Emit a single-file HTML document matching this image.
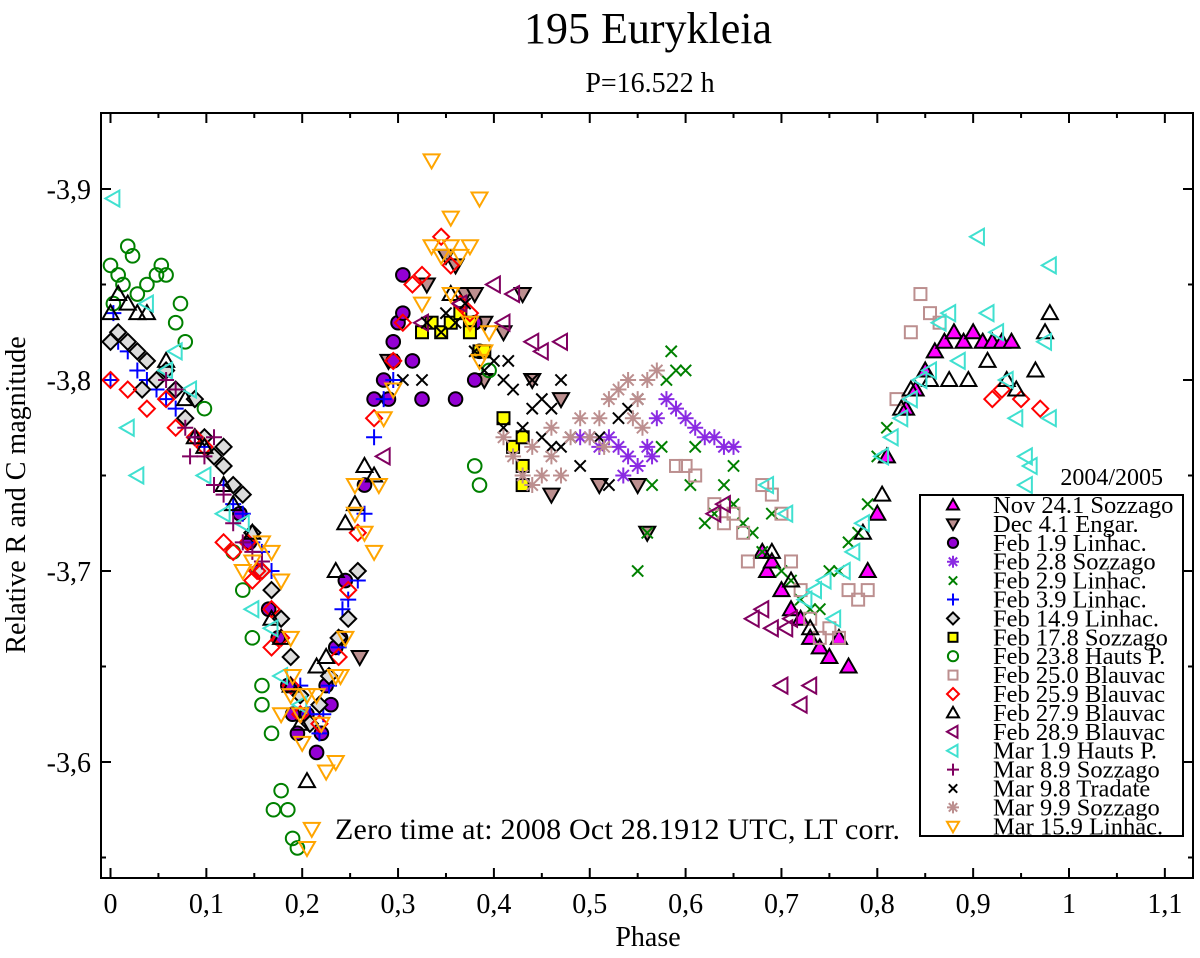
<!DOCTYPE html>
<html><head><meta charset="utf-8"><style>
body{margin:0;background:#fff}
svg text{font-family:"Liberation Serif",serif;fill:#000}
</style></head><body>
<svg id="chart" width="1200" height="953" viewBox="0 0 1200 953" xmlns="http://www.w3.org/2000/svg">
<text x="648" y="43" font-size="44" text-anchor="middle">195 Eurykleia</text>
<text x="650" y="92" font-size="28" text-anchor="middle">P=16.522 h</text>
<text x="648" y="946" font-size="28" text-anchor="middle">Phase</text>
<text transform="translate(25,495) rotate(-90)" font-size="28" text-anchor="middle">Relative R and C magnitude</text>
<g id="axes"></g>
<g id="marks"></g>
<text x="335" y="839" font-size="30" textLength="565">Zero time at: 2008 Oct 28.1912 UTC, LT corr.</text>
<text x="1163" y="485" font-size="24" text-anchor="end">2004/2005</text>
<rect x="920" y="495" width="263" height="341" fill="#fff" stroke="#000" stroke-width="2"/>
<g id="legend"></g>
<rect x="101" y="113" width="1092" height="765" fill="none" stroke="#000" stroke-width="2"/>
</svg>
<script>
const xTicks=[0,0.1,0.2,0.3,0.4,0.5,0.6,0.7,0.8,0.9,1,1.1];
const xTickLabels=["0","0,1","0,2","0,3","0,4","0,5","0,6","0,7","0,8","0,9","1","1,1"];
const yTicks=[-3.9,-3.8,-3.7,-3.6];
const yTickLabels=["-3,9","-3,8","-3,7","-3,6"];
const seriesNames=["Nov 24.1 Sozzago","Dec 4.1 Engar.","Feb 1.9 Linhac.","Feb 2.8 Sozzago","Feb 2.9 Linhac.","Feb 3.9 Linhac.","Feb 14.9 Linhac.","Feb 17.8 Sozzago","Feb 23.8 Hauts P.","Feb 25.0 Blauvac","Feb 25.9 Blauvac","Feb 27.9 Blauvac","Feb 28.9 Blauvac","Mar 1.9 Hauts P.","Mar 8.9 Sozzago","Mar 9.8 Tradate","Mar 9.9 Sozzago","Mar 15.9 Linhac."];
const nov24=[[0.68,-3.71],[0.685,-3.70],[0.69,-3.705],[0.70,-3.69],[0.71,-3.68],[0.72,-3.675],[0.73,-3.665],[0.74,-3.66],[0.75,-3.655],[0.76,-3.665],[0.77,-3.65],[0.79,-3.70],[0.80,-3.73],[0.81,-3.76],[0.83,-3.785],[0.84,-3.795],[0.85,-3.805],[0.86,-3.815],[0.87,-3.82],[0.88,-3.825],[0.89,-3.82],[0.90,-3.825],[0.91,-3.82],[0.92,-3.82],[0.93,-3.82],[0.94,-3.82]];
const dec4=[[0.33,-3.85],[0.35,-3.865],[0.36,-3.86],[0.37,-3.845],[0.38,-3.845],[0.39,-3.83],[0.41,-3.825],[0.44,-3.80],[0.47,-3.79],[0.46,-3.74],[0.51,-3.745],[0.55,-3.745],[0.56,-3.72],[0.29,-3.81],[0.26,-3.655],[0.39,-3.80],[0.43,-3.845]];
const feb1=[[0.135,-3.73],[0.145,-3.715],[0.155,-3.70],[0.165,-3.68],[0.175,-3.665],[0.185,-3.64],[0.19,-3.625],[0.195,-3.615],[0.205,-3.625],[0.215,-3.605],[0.22,-3.615],[0.225,-3.64],[0.23,-3.63],[0.235,-3.66],[0.24,-3.665],[0.245,-3.695],[0.265,-3.745],[0.275,-3.79],[0.285,-3.80],[0.295,-3.81],[0.30,-3.83],[0.305,-3.835],[0.305,-3.855],[0.315,-3.81],[0.325,-3.79],[0.36,-3.79],[0.38,-3.80],[0.385,-3.815],[0.38,-3.83],[0.295,-3.82],[0.29,-3.79]];
const feb2s=[[0.49,-3.77],[0.50,-3.77],[0.51,-3.765],[0.52,-3.77],[0.53,-3.765],[0.54,-3.76],[0.55,-3.755],[0.56,-3.765],[0.57,-3.78],[0.58,-3.79],[0.59,-3.785],[0.60,-3.78],[0.61,-3.775],[0.62,-3.77],[0.63,-3.77],[0.64,-3.765],[0.65,-3.765],[0.565,-3.76],[0.535,-3.75]];
const feb2l=[[0.55,-3.70],[0.56,-3.72],[0.565,-3.745],[0.575,-3.765],[0.58,-3.80],[0.585,-3.815],[0.59,-3.805],[0.60,-3.805],[0.61,-3.765],[0.62,-3.725],[0.63,-3.73],[0.64,-3.745],[0.65,-3.735],[0.66,-3.725],[0.67,-3.72],[0.69,-3.73],[0.70,-3.70],[0.71,-3.695],[0.72,-3.685],[0.73,-3.68],[0.74,-3.68],[0.75,-3.70],[0.76,-3.70],[0.77,-3.715],[0.78,-3.72],[0.79,-3.735],[0.80,-3.76],[0.81,-3.775],[0.605,-3.745],[0.65,-3.755],[0.68,-3.71]];
const feb3=[[0.0,-3.80],[0.003,-3.835],[0.008,-3.82],[0.018,-3.815],[0.028,-3.805],[0.038,-3.80],[0.048,-3.795],[0.058,-3.79],[0.068,-3.785],[0.078,-3.78],[0.088,-3.77],[0.098,-3.765],[0.108,-3.76],[0.118,-3.745],[0.128,-3.735],[0.138,-3.73],[0.148,-3.715],[0.158,-3.71],[0.168,-3.70],[0.178,-3.675],[0.188,-3.655],[0.198,-3.64],[0.208,-3.625],[0.218,-3.615],[0.222,-3.625],[0.228,-3.64],[0.238,-3.66],[0.242,-3.68],[0.248,-3.685],[0.258,-3.695],[0.265,-3.73],[0.275,-3.77],[0.285,-3.79],[0.295,-3.80]];
const feb14=[[0.0,-3.82],[0.008,-3.825],[0.018,-3.82],[0.028,-3.815],[0.038,-3.81],[0.048,-3.80],[0.058,-3.805],[0.068,-3.795],[0.078,-3.78],[0.088,-3.79],[0.098,-3.77],[0.108,-3.76],[0.118,-3.755],[0.128,-3.745],[0.138,-3.74],[0.148,-3.72],[0.158,-3.70],[0.168,-3.69],[0.178,-3.675],[0.188,-3.655],[0.198,-3.635],[0.208,-3.62],[0.218,-3.63],[0.228,-3.645],[0.238,-3.665],[0.248,-3.675],[0.258,-3.70],[0.118,-3.765],[0.033,-3.795]];
const feb17=[[0.325,-3.825],[0.335,-3.83],[0.345,-3.825],[0.355,-3.83],[0.365,-3.835],[0.375,-3.83],[0.385,-3.815],[0.39,-3.815],[0.41,-3.78],[0.42,-3.765],[0.43,-3.755],[0.43,-3.77],[0.43,-3.745],[0.375,-3.825]];
const feb23=[[0.0,-3.86],[0.008,-3.855],[0.013,-3.85],[0.018,-3.87],[0.023,-3.865],[0.028,-3.845],[0.038,-3.85],[0.048,-3.855],[0.053,-3.86],[0.058,-3.855],[0.068,-3.83],[0.073,-3.84],[0.078,-3.82],[0.098,-3.785],[0.128,-3.71],[0.138,-3.69],[0.148,-3.665],[0.158,-3.64],[0.168,-3.615],[0.178,-3.585],[0.185,-3.575],[0.19,-3.56],[0.195,-3.555],[0.003,-3.84],[0.38,-3.755],[0.385,-3.745],[0.395,-3.805],[0.158,-3.63],[0.17,-3.575]];
const feb25a=[[0.59,-3.755],[0.60,-3.755],[0.61,-3.75],[0.63,-3.735],[0.64,-3.725],[0.65,-3.73],[0.66,-3.72],[0.68,-3.745],[0.69,-3.74],[0.70,-3.73],[0.71,-3.705],[0.72,-3.69],[0.73,-3.675],[0.74,-3.665],[0.75,-3.67],[0.76,-3.665],[0.77,-3.69],[0.78,-3.685],[0.79,-3.69],[0.82,-3.79],[0.835,-3.825],[0.845,-3.845],[0.855,-3.835],[0.865,-3.83],[0.665,-3.705]];
const feb25b=[[0.0,-3.80],[0.018,-3.795],[0.038,-3.785],[0.058,-3.79],[0.068,-3.775],[0.088,-3.77],[0.098,-3.765],[0.118,-3.715],[0.128,-3.71],[0.148,-3.695],[0.158,-3.70],[0.168,-3.68],[0.178,-3.665],[0.188,-3.64],[0.198,-3.625],[0.218,-3.62],[0.238,-3.655],[0.248,-3.69],[0.258,-3.72],[0.275,-3.78],[0.295,-3.81],[0.305,-3.83],[0.315,-3.85],[0.325,-3.855],[0.345,-3.875],[0.355,-3.86],[0.365,-3.84],[0.375,-3.835],[0.92,-3.79],[0.93,-3.795],[0.95,-3.79],[0.97,-3.785],[0.168,-3.66],[0.153,-3.70],[0.143,-3.715]];
const feb27=[[0.0,-3.835],[0.008,-3.845],[0.018,-3.84],[0.028,-3.835],[0.038,-3.835],[0.058,-3.81],[0.078,-3.79],[0.088,-3.77],[0.098,-3.765],[0.118,-3.745],[0.128,-3.735],[0.148,-3.72],[0.168,-3.675],[0.178,-3.665],[0.188,-3.64],[0.198,-3.62],[0.205,-3.59],[0.215,-3.65],[0.225,-3.655],[0.235,-3.70],[0.245,-3.725],[0.255,-3.735],[0.265,-3.755],[0.275,-3.75],[0.355,-3.845],[0.69,-3.71],[0.71,-3.695],[0.73,-3.67],[0.805,-3.74],[0.825,-3.785],[0.855,-3.80],[0.875,-3.80],[0.895,-3.80],[0.915,-3.81],[0.935,-3.80],[0.945,-3.795],[0.965,-3.805],[0.975,-3.825],[0.98,-3.835],[0.785,-3.72],[0.835,-3.795]];
const feb28=[[0.40,-3.85],[0.42,-3.845],[0.44,-3.82],[0.45,-3.815],[0.47,-3.82],[0.41,-3.83],[0.285,-3.76],[0.325,-3.83],[0.67,-3.675],[0.68,-3.68],[0.69,-3.67],[0.71,-3.675],[0.70,-3.64],[0.72,-3.63],[0.73,-3.64],[0.365,-3.84],[0.64,-3.735],[0.63,-3.73],[0.705,-3.67]];
const mar1=[[0.003,-3.895],[0.018,-3.775],[0.028,-3.75],[0.038,-3.84],[0.058,-3.805],[0.068,-3.815],[0.083,-3.795],[0.098,-3.75],[0.118,-3.73],[0.138,-3.725],[0.148,-3.68],[0.168,-3.67],[0.178,-3.645],[0.198,-3.63],[0.765,-3.70],[0.745,-3.695],[0.735,-3.69],[0.725,-3.685],[0.755,-3.675],[0.775,-3.71],[0.785,-3.725],[0.805,-3.76],[0.815,-3.77],[0.825,-3.78],[0.835,-3.79],[0.845,-3.80],[0.855,-3.805],[0.865,-3.83],[0.875,-3.835],[0.885,-3.81],[0.905,-3.875],[0.935,-3.80],[0.945,-3.78],[0.955,-3.76],[0.96,-3.755],[0.975,-3.82],[0.98,-3.86],[0.925,-3.825],[0.705,-3.73],[0.685,-3.745],[0.98,-3.78],[0.955,-3.745],[0.915,-3.835]];
const mar8=[[0.068,-3.795],[0.078,-3.775],[0.083,-3.76],[0.088,-3.77],[0.098,-3.76],[0.108,-3.745],[0.118,-3.74],[0.128,-3.725],[0.138,-3.715],[0.148,-3.71],[0.158,-3.705],[0.108,-3.77],[0.058,-3.80]];
const mar9t=[[0.33,-3.83],[0.35,-3.835],[0.36,-3.83],[0.37,-3.84],[0.38,-3.815],[0.40,-3.81],[0.41,-3.80],[0.42,-3.795],[0.44,-3.80],[0.45,-3.79],[0.46,-3.785],[0.47,-3.765],[0.48,-3.77],[0.49,-3.755],[0.51,-3.77],[0.52,-3.745],[0.53,-3.78],[0.54,-3.785],[0.55,-3.79],[0.41,-3.775],[0.43,-3.775],[0.45,-3.77],[0.46,-3.765],[0.305,-3.80],[0.325,-3.80],[0.415,-3.81],[0.44,-3.785],[0.47,-3.80],[0.39,-3.805],[0.345,-3.825]];
const mar9s=[[0.41,-3.77],[0.42,-3.76],[0.43,-3.75],[0.44,-3.765],[0.45,-3.75],[0.46,-3.76],[0.47,-3.75],[0.48,-3.77],[0.49,-3.78],[0.50,-3.77],[0.51,-3.78],[0.52,-3.79],[0.53,-3.795],[0.54,-3.80],[0.55,-3.79],[0.56,-3.80],[0.57,-3.805],[0.44,-3.745],[0.46,-3.775],[0.515,-3.765],[0.545,-3.78],[0.555,-3.775]];
const mar15=[[0.138,-3.70],[0.148,-3.705],[0.158,-3.715],[0.168,-3.71],[0.178,-3.695],[0.188,-3.665],[0.188,-3.635],[0.198,-3.625],[0.2,-3.61],[0.205,-3.635],[0.205,-3.555],[0.21,-3.565],[0.215,-3.635],[0.22,-3.62],[0.225,-3.595],[0.235,-3.60],[0.24,-3.645],[0.245,-3.665],[0.255,-3.73],[0.265,-3.72],[0.275,-3.71],[0.28,-3.745],[0.285,-3.78],[0.295,-3.795],[0.325,-3.84],[0.335,-3.87],[0.345,-3.865],[0.355,-3.87],[0.365,-3.865],[0.375,-3.87],[0.335,-3.915],[0.355,-3.885],[0.385,-3.895],[0.355,-3.845],[0.375,-3.83],[0.385,-3.81],[0.39,-3.815],[0.395,-3.825],[0.178,-3.625],[0.19,-3.645],[0.255,-3.745],[0.235,-3.645]];

const NS="http://www.w3.org/2000/svg";
const X0=110.5,XS=958.5,Y0=189,YS=1910;
function xScale(p){return X0+p*XS;}
function yScale(m){return Y0+(m+3.9)*YS;}
function mk(tag,attrs,parent){const e=document.createElementNS(NS,tag);for(const k in attrs)e.setAttribute(k,attrs[k]);parent.appendChild(e);return e;}
const styles=[
 {shape:"tri",fill:"#ff00ff",stroke:"#000"},
 {shape:"tridown",fill:"#bc8f8f",stroke:"#000"},
 {shape:"circle",fill:"#9400d3",stroke:"#000"},
 {shape:"star",fill:"none",stroke:"#8a2be2"},
 {shape:"x",fill:"none",stroke:"#008000"},
 {shape:"plus",fill:"none",stroke:"#0000ff"},
 {shape:"diamond",fill:"#dcdcdc",stroke:"#000"},
 {shape:"square",fill:"#ffff00",stroke:"#000"},
 {shape:"circle",fill:"none",stroke:"#008000"},
 {shape:"square",fill:"none",stroke:"#bc8f8f"},
 {shape:"diamond",fill:"none",stroke:"#ff0000"},
 {shape:"tri",fill:"none",stroke:"#000"},
 {shape:"trileft",fill:"none",stroke:"#800060"},
 {shape:"trileft",fill:"none",stroke:"#40e0d0"},
 {shape:"plus",fill:"none",stroke:"#800060"},
 {shape:"x",fill:"none",stroke:"#000"},
 {shape:"star",fill:"none",stroke:"#bc8f8f"},
 {shape:"tridown",fill:"none",stroke:"#ffa500"}];
const allSeries=[nov24,dec4,feb1,feb2s,feb2l,feb3,feb14,feb17,feb23,feb25a,feb25b,feb27,feb28,mar1,mar8,mar9t,mar9s,mar15];
function drawSym(st,cx,cy,r,parent){
 const a={fill:st.fill,stroke:st.stroke,"stroke-width":2};
 let e;
 if(st.shape==="circle")e=mk("circle",Object.assign({cx:cx,cy:cy,r:r*0.85},a),parent);
 else if(st.shape==="square")e=mk("rect",Object.assign({x:cx-r*0.75,y:cy-r*0.75,width:r*1.5,height:r*1.5},a),parent);
 else if(st.shape==="diamond")e=mk("polygon",Object.assign({points:`${cx},${cy-r} ${cx+r},${cy} ${cx},${cy+r} ${cx-r},${cy}`},a),parent);
 else if(st.shape==="tri")e=mk("polygon",Object.assign({points:`${cx},${cy-r} ${cx+r},${cy+r*0.75} ${cx-r},${cy+r*0.75}`},a),parent);
 else if(st.shape==="tridown")e=mk("polygon",Object.assign({points:`${cx},${cy+r} ${cx+r},${cy-r*0.75} ${cx-r},${cy-r*0.75}`},a),parent);
 else if(st.shape==="trileft")e=mk("polygon",Object.assign({points:`${cx-r},${cy} ${cx+r*0.75},${cy-r} ${cx+r*0.75},${cy+r}`},a),parent);
 else if(st.shape==="plus")e=mk("path",Object.assign({d:`M${cx-r} ${cy}H${cx+r}M${cx} ${cy-r}V${cy+r}`},a),parent);
 else if(st.shape==="x"){const q=r*0.7;e=mk("path",Object.assign({d:`M${cx-q} ${cy-q}L${cx+q} ${cy+q}M${cx-q} ${cy+q}L${cx+q} ${cy-q}`},a),parent);}
 else {const q=r*0.7;e=mk("path",Object.assign({d:`M${cx-r} ${cy}H${cx+r}M${cx} ${cy-r}V${cy+r}M${cx-q} ${cy-q}L${cx+q} ${cy+q}M${cx-q} ${cy+q}L${cx+q} ${cy-q}`},a),parent);}
 return e;
}
const axes=document.getElementById("axes");
xTicks.forEach((t,i)=>{
 const x=xScale(t);
 const l1=mk("line",{x1:x,y1:878,x2:x,y2:868,stroke:"#000","stroke-width":2},axes);
 
 
 mk("line",{x1:x,y1:113,x2:x,y2:123,stroke:"#000","stroke-width":2},axes);
 const xm=xScale(t+0.05);
 if(xm<1190){mk("line",{x1:xm,y1:878,x2:xm,y2:873,stroke:"#000","stroke-width":2},axes);mk("line",{x1:xm,y1:113,x2:xm,y2:118,stroke:"#000","stroke-width":2},axes);}
 const tx=mk("text",{x:x,y:913,"font-size":28,"text-anchor":"middle"},axes);
 tx.textContent=xTickLabels[i];
 
 
});
yTicks.forEach((t,i)=>{
 const y=yScale(t);
 mk("line",{x1:101,y1:y,x2:111,y2:y,stroke:"#000","stroke-width":2},axes);
 mk("line",{x1:1193,y1:y,x2:1183,y2:y,stroke:"#000","stroke-width":2},axes);
 [yScale(t-0.05),yScale(t+0.05)].forEach(ym=>{if(ym>115&&ym<876){mk("line",{x1:101,y1:ym,x2:106,y2:ym,stroke:"#000","stroke-width":2},axes);mk("line",{x1:1193,y1:ym,x2:1188,y2:ym,stroke:"#000","stroke-width":2},axes);}});
 const tx=mk("text",{x:91,y:y+10,"font-size":28,"text-anchor":"end"},axes);
 tx.textContent=yTickLabels[i];
 
 
});
const marks=document.getElementById("marks");
allSeries.forEach((s,si)=>{
 const g=mk("g",{},marks);
 
 
 s.forEach(p=>{
  const e=drawSym(styles[si],xScale(p[0]),yScale(p[1]),8,g);
  
  
 });
});
const leg=document.getElementById("legend");
seriesNames.forEach((n,i)=>{
 const y=505+i*18.9;
 const g=mk("g",{},leg);
 
 
 drawSym(styles[i],953,y,6,g);
 const t=mk("text",{x:993,y:y+8,"font-size":24.5},g);
 t.textContent=n;
});
</script>
</body></html>
